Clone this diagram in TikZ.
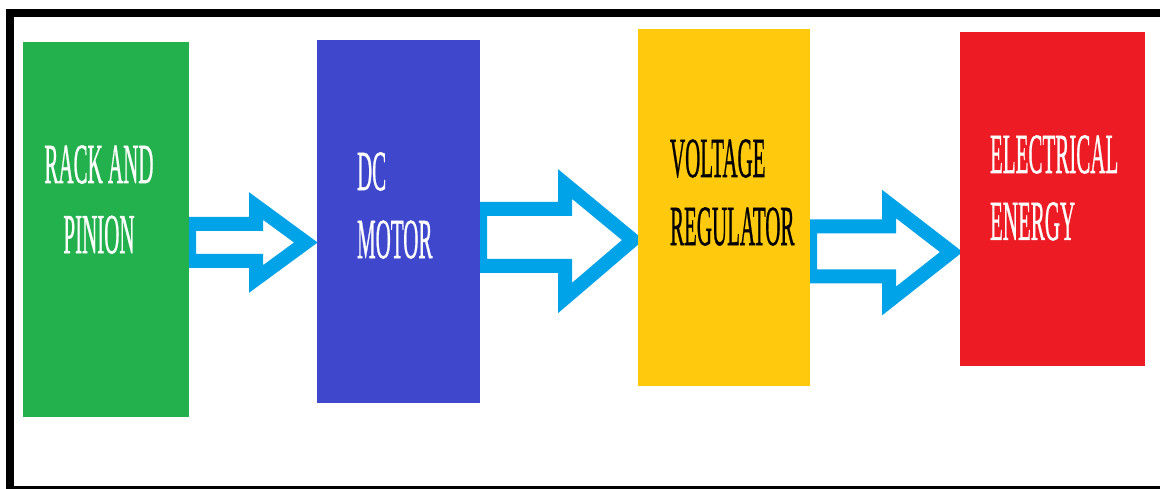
\documentclass[tikz,border=0pt]{standalone}
\usepackage{fontspec}
\setmainfont{Liberation Serif}
\newfontfamily\boxfont[FakeBold=1]{Liberation Serif}
\usepackage{graphicx}
\usetikzlibrary{calc,backgrounds}
\definecolor{pgreen}{RGB}{34,177,76}
\definecolor{pblue}{RGB}{63,72,204}
\definecolor{pyellow}{RGB}{255,201,14}
\definecolor{pred}{RGB}{237,28,36}
\definecolor{parrow}{RGB}{0,162,232}
\newcommand\tallcell[3]{\boxfont\fontsize{21pt}{#1}\selectfont\scalebox{1}[2.7]{\begin{tabular}[t]{@{}#2@{}}#3\end{tabular}}}
\begin{document}
\begin{tikzpicture}[x=1pt,y=-1pt,
  box/.style={rectangle,draw=none,inner sep=0pt},
  lbl/.style={inner sep=0pt,outer sep=0pt},
  bigarrow/.style={draw=parrow,fill=white,line width=14pt,line join=miter}]
\useasboundingbox (0,0) rectangle (1160,489);
\begin{scope}
\clip (0,0) rectangle (1160,489);
\draw[line width=8pt] (10,13) rectangle (1200,490);
\end{scope}
% boxes
\node[box,fill=pgreen,minimum width=166pt,minimum height=375pt] (rack) at (106,229.5) {};
\node[box,fill=pblue,minimum width=163pt,minimum height=363pt] (motor) at (398.5,221.5) {};
\node[box,fill=pyellow,minimum width=172pt,minimum height=357pt] (reg) at (724,207.5) {};
\node[box,fill=pred,minimum width=185pt,minimum height=334pt] (energy) at (1052.5,199) {};
% labels
\node[lbl,anchor=base,text=white] (racktext) at (99,183) {\tallcell{26pt}{c}{RACK AND\\PINION}};
\node[lbl,anchor=base west,text=white] (motortext) at (357,190) {\tallcell{25.2pt}{l}{DC\\MOTOR}};
\node[lbl,anchor=base west,text=black] (regtext) at (670,177) {\tallcell{25.2pt}{l}{VOLTAGE\\REGULATOR}};
\node[lbl,anchor=base west,text=white] (energytext) at (990,173) {\tallcell{24.8pt}{l}{ELECTRICAL\\ENERGY}};
% arrows
\begin{pgfonlayer}{background}
\draw[bigarrow] let \p1=(rack.east), \p2=(motor.west) in
  (\x1,-224pt) -- (256pt,-224pt) -- (256pt,-206pt) -- (\x2-11pt,-242.5pt)
  -- (256pt,-279pt) -- (256pt,-261pt) -- (\x1,-261pt) -- cycle;
\draw[bigarrow] let \p1=(motor.east), \p2=(reg.west) in
  (\x1,-209pt) -- (565pt,-209pt) -- (565pt,-184pt) -- (\x2-5pt,-240pt)
  -- (565pt,-298pt) -- (565pt,-266pt) -- (\x1,-266pt) -- cycle;
\draw[bigarrow] let \p1=(reg.east), \p2=(energy.west) in
  (\x1,-226.5pt) -- (889pt,-226.5pt) -- (889pt,-204pt) -- (\x2-8.5pt,-252pt)
  -- (889pt,-301pt) -- (889pt,-276.5pt) -- (\x1,-276.5pt) -- cycle;
\end{pgfonlayer}
\end{tikzpicture}
\end{document}
